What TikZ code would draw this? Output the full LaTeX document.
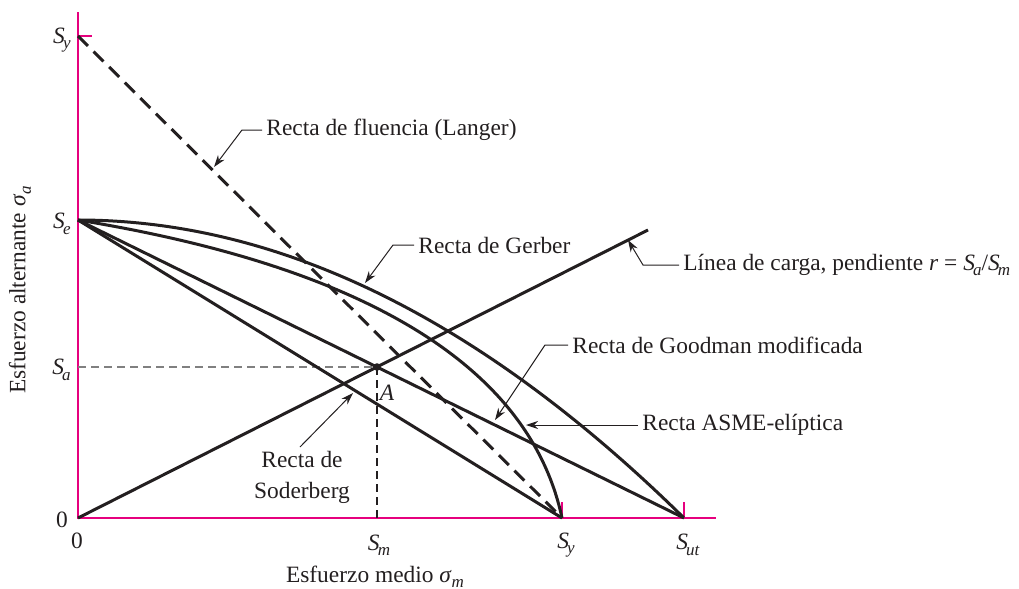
\documentclass[tikz,border=0pt]{standalone}
\usepackage{fontspec}
\setmainfont{Liberation Serif}
\usetikzlibrary{arrows.meta}
\definecolor{axis}{RGB}{230,0,126}
\definecolor{ink}{RGB}{35,31,32}
\newcommand\Sv[1]{\textit{S}\kern-0.08em\raisebox{-0.5ex}{\fontsize{8.5}{8.5}\selectfont\textit{#1}}}
\newcommand\sig[1]{\textit{σ}\raisebox{-0.5ex}{\fontsize{8.5}{8.5}\selectfont\textit{#1}}}
\begin{document}
\begin{tikzpicture}[x=0.5pt,y=-0.5pt, font=\fontsize{11.7}{15.5}\selectfont,
  axisline/.style={draw=axis, line width=1pt},
  curve/.style={draw=ink, line width=1.5pt},
  langer/.style={curve, dash pattern=on 7pt off 4pt},
  guide/.style={draw=ink, line width=0.55pt, dash pattern=on 4pt off 2.5pt},
  leader/.style={draw=ink, line width=0.5pt, -{Stealth[length=6pt,width=4pt]}},
  lbl/.style={text=ink, inner sep=0pt, anchor=west},
  tick/.style={text=ink, inner sep=0pt}]
\useasboundingbox (0,0) rectangle (1019,589);
% key points
\coordinate (O) at (78,518);
\coordinate (Ytop) at (78,12);
\coordinate (Xend) at (716,518);
\coordinate (Syv) at (78,36);
\coordinate (Se) at (78,220);
\coordinate (Sav) at (78,367);
\coordinate (Smh) at (377,518);
\coordinate (Syh) at (562,518);
\coordinate (Suth) at (684,518);
\coordinate (A) at (377,367);
\coordinate (L) at (648,230);
% axes
\draw[axisline] (Ytop) -- (O) -- (Xend);
\draw[axisline] (Syv) -- ++(14,0);
\draw[axisline] (Syh) -- ++(0,-16);
\draw[axisline] (Suth) -- ++(0,-16);
% guides
\draw[guide, draw=gray] (Sav) -- (A);
\draw[guide] (A) -- (Smh);
% curves
\draw[curve] (O) -- (L);
\draw[curve] (Se) -- (Syh);
\draw[curve] (Se) -- (Suth);
\draw[curve] plot[domain=0:1,samples=80] ({78+606*\x},{220+298*\x*\x});
\draw[curve] (Se) .. controls (260,250) and (520,320) .. (Syh);
\draw[langer] (Syv) -- (Syh);
\fill[ink] (A) circle (1.9pt);
% axis labels
\node[tick, anchor=east] (lSyv) at (71,40) {\Sv{y}};
\node[tick, anchor=east] (lSe) at (71,224) {\Sv{e}};
\node[tick, anchor=east] (lSa) at (71,370) {\Sv{a}};
\node[tick] (l0v) at (62,520) {0};
\node[tick] (l0h) at (77,541) {0};
\node[tick] (lSm) at (379,545) {\Sv{m}};
\node[tick] (lSyh) at (566,545) {\Sv{y}};
\node[tick] (lSut) at (688,545) {\Sv{ut}};
\node[tick] (lA) at (387,393) {\textit{A}};
\node[tick] (xlab) at (375,577) {Esfuerzo medio \sig{m}};
\node[tick, rotate=90] (ylab) at (20,290) {Esfuerzo alternante \sig{a}};
% callouts
\node[lbl] (tLanger) at (266,130) {Recta de fluencia (Langer)};
\draw[leader] ([xshift=-2pt]tLanger.west) -- (242,130) -- (214,167);
\node[lbl] (tGerber) at (418,245) {Recta de Gerber};
\draw[leader] ([xshift=-2pt]tGerber.west) -- (393,245) -- (365,283);
\node[lbl] (tLoad) at (683,265) {Línea de carga, pendiente \textit{r} = \Sv{a}/\Sv{m}};
\draw[leader] ([xshift=-2pt]tLoad.west) -- (643,265) -- (628,240);
\node[lbl] (tGood) at (572,345) {Recta de Goodman modificada};
\draw[leader] ([xshift=-2pt]tGood.west) -- (545,345) -- (495,420);
\node[lbl] (tASME) at (642,425) {Recta ASME-elíptica};
\draw[leader] ([xshift=-2pt]tASME.west) -- (526,425);
\node[tick, align=center] (tSoder) at (302,477) {Recta de\\Soderberg};
\draw[leader] (300,447) -- (353,393);
\end{tikzpicture}
\end{document}
